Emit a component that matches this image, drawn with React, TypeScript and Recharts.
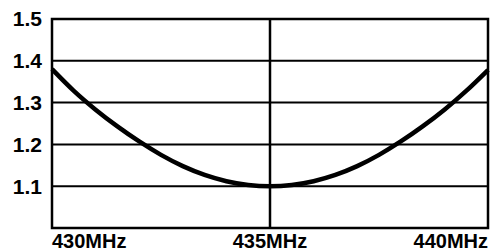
import {
  CartesianGrid,
  Line,
  LineChart,
  ReferenceArea,
  ReferenceLine,
  XAxis,
  YAxis,
} from "recharts";

const INK = "#000000";
const FONT = "'Liberation Sans', Arial, sans-serif";

const freqs = [
  430, 430.5, 431, 431.5, 432, 432.5, 433, 433.5, 434, 434.5, 435, 435.5, 436,
  436.5, 437, 437.5, 438, 438.5, 439, 439.5, 440,
];
const vswr = [
  1.38, 1.328, 1.283, 1.243, 1.207, 1.175, 1.148, 1.127, 1.112, 1.103, 1.1,
  1.103, 1.112, 1.127, 1.148, 1.175, 1.207, 1.243, 1.283, 1.328, 1.378,
];
const xTicks = [430, 435, 440];
const xLabels = ["430MHz", "435MHz", "440MHz"];
const yTicks = [1.1, 1.2, 1.3, 1.4, 1.5];

const data = freqs.map((f, i) => ({ f, v: vswr[i] }));

function XTick(props: any) {
  const { x, payload, index } = props;
  const anchor = index === 0 ? "start" : index === 2 ? "end" : "middle";
  return (
    <text
      x={x}
      y={248}
      textAnchor={anchor}
      fontFamily={FONT}
      fontWeight="bold"
      fontSize={20}
      fill={INK}
    >
      {xLabels[xTicks.indexOf(payload.value)]}
    </text>
  );
}

export default function App() {
  return (
    <div style={{ position: "absolute", left: 0, top: 0, background: "#fff" }}>
      <LineChart
        width={494}
        height={252}
        data={data}
        margin={{ top: 19, right: 6, left: 0, bottom: 0 }}
      >
        <CartesianGrid
          vertical={false}
          stroke={INK}
          strokeWidth={2}
          strokeOpacity={1}
        />
        <XAxis
          dataKey="f"
          type="number"
          domain={[430, 440]}
          ticks={xTicks}
          height={24}
          axisLine={false}
          tickLine={false}
          tick={<XTick />}
          interval={0}
        />
        <YAxis
          type="number"
          domain={[1.0, 1.5]}
          ticks={yTicks}
          width={52}
          axisLine={false}
          tickLine={false}
          tickFormatter={(v: number) => v.toFixed(1)}
          tick={{
            fontSize: 21,
            fontWeight: "bold",
            fontFamily: FONT,
            fill: INK,
          }}
          tickMargin={4}
        />
        <ReferenceArea
          x1={430}
          x2={440}
          y1={1.0}
          y2={1.5}
          fill="none"
          stroke={INK}
          strokeWidth={2.5}
          ifOverflow="visible"
        />
        <ReferenceLine x={435} stroke={INK} strokeWidth={2.5} />
        <Line
          dataKey="v"
          type="monotone"
          stroke={INK}
          strokeWidth={4.5}
          dot={false}
          isAnimationActive={false}
        />
      </LineChart>
    </div>
  );
}
